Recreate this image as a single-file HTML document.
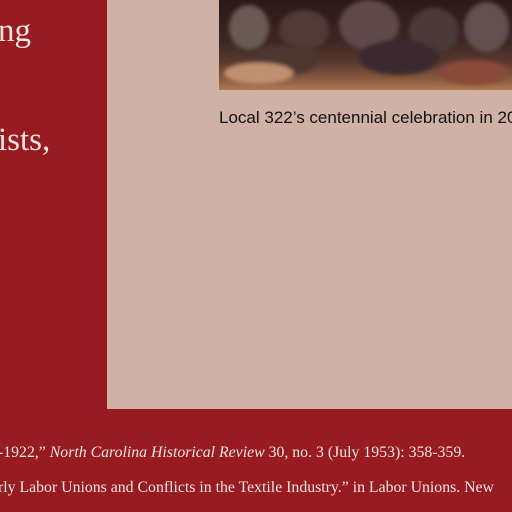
<!DOCTYPE html>
<html><head><meta charset="utf-8"><style>
html,body{margin:0;padding:0}
body{width:512px;height:512px;overflow:hidden;background:#971b20;position:relative;font-family:"Liberation Serif",serif;color:#f3e6e2}
.t{position:absolute;white-space:nowrap}
#panel{position:absolute;left:107px;top:0;width:405px;height:409px;background:#d0b1a6}
#photo{position:absolute;left:219px;top:0;width:293px;height:90px;overflow:hidden;
background:linear-gradient(180deg,#2a1a18 0%,#3b2622 45%,#5a3a30 70%,#8a5a40 88%,#b07a50 100%)}
#photo span{position:absolute;border-radius:50%;filter:blur(2px)}
</style></head><body>
<div class="t" style="left:-2px;top:13px;font-size:33px">ng</div>
<div class="t" style="left:-2px;top:122px;font-size:33px">ists,</div>
<div id="panel"></div>
<div id="photo">
<span style="left:10px;top:5px;width:40px;height:45px;background:#6a5a55"></span>
<span style="left:60px;top:10px;width:50px;height:40px;background:#503c38"></span>
<span style="left:120px;top:0px;width:60px;height:50px;background:#5e4a48"></span>
<span style="left:190px;top:8px;width:50px;height:45px;background:#4a3a3a"></span>
<span style="left:245px;top:2px;width:45px;height:50px;background:#625050"></span>
<span style="left:30px;top:45px;width:70px;height:30px;background:#4c3630"></span>
<span style="left:140px;top:40px;width:80px;height:35px;background:#3a2a30"></span>
<span style="left:5px;top:62px;width:70px;height:22px;background:#c09070"></span>
<span style="left:220px;top:60px;width:70px;height:25px;background:#8a4a3a"></span>
</div>
<div class="t" style="left:219px;top:108px;font-family:'Liberation Sans',sans-serif;font-size:17px;color:#111">Local 322’s centennial celebration in 2014</div>
<div class="t" style="left:-2px;top:444px;font-size:15.8px">-1922,” <i>North Carolina Historical Review</i> 30, no. 3 (July 1953): 358-359.</div>
<div class="t" style="left:-2px;top:479px;font-size:15.8px">rly Labor Unions and Conflicts in the Textile Industry.” in Labor Unions. New</div>
</body></html>
